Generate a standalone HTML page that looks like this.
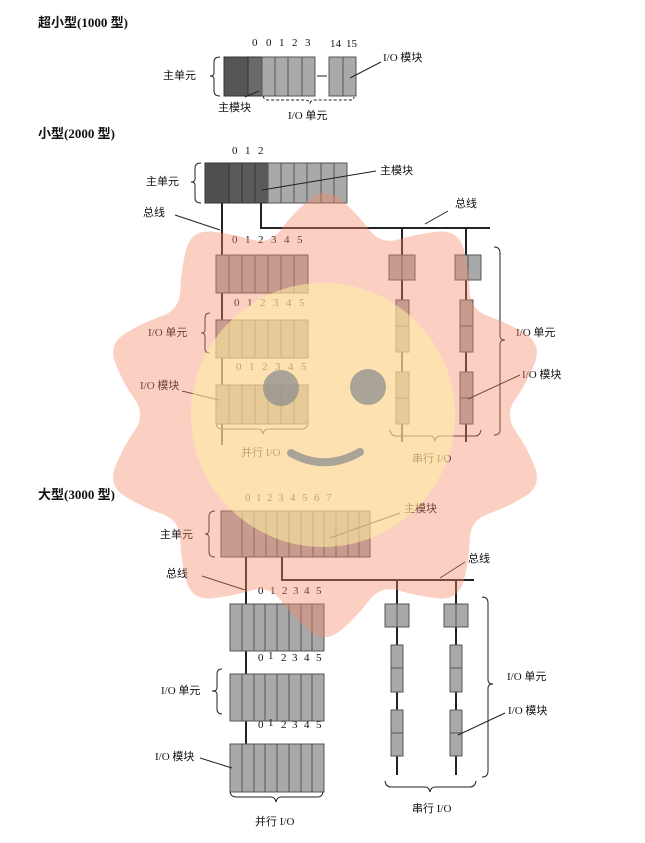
<!DOCTYPE html>
<html><head><meta charset="utf-8">
<style>
html,body{margin:0;padding:0;background:#fff;}
svg{display:block;}
text{font-family:"Liberation Serif","Noto Sans CJK SC",serif;font-size:11px;fill:#111;}
.t{font-size:13px;font-weight:bold;}
.c{fill:#a9a9a9;stroke:#555;stroke-width:1;}
.d{fill:#5a5a5a;stroke:#333;stroke-width:1;}
.l{stroke:#222;stroke-width:1;fill:none;}
.b{stroke:#222;stroke-width:2;fill:none;}
.br{stroke:#222;stroke-width:1;fill:none;}
</style></head><body>
<svg width="645" height="843" viewBox="0 0 645 843" xmlns="http://www.w3.org/2000/svg">
<!-- ===== 1000 ===== -->
<text class="t" x="38" y="27">超小型(1000 型)</text>
<text x="252" y="46">0</text><text x="266" y="46">0</text><text x="279" y="46">1</text><text x="292" y="46">2</text><text x="305" y="46">3</text>
<text x="330" y="47">14</text><text x="346" y="47">15</text>
<rect x="224" y="57" width="24" height="39" class="d" style="fill:#555"/>
<rect x="248" y="57" width="14" height="39" class="d" style="fill:#6a6a6a"/>
<rect x="262" y="57" width="13" height="39" class="c"/><rect x="275" y="57" width="13" height="39" class="c"/><rect x="288" y="57" width="14" height="39" class="c"/><rect x="302" y="57" width="13" height="39" class="c"/>
<line x1="317" y1="76" x2="327" y2="76" class="l"/>
<rect x="329" y="57" width="14" height="39" class="c"/><rect x="343" y="57" width="13" height="39" class="c"/>
<path class="br" d="M220 57 Q214 57 214 62 L214 73 Q214 76 210 76 Q214 76 214 79 L214 91 Q214 96 220 96"/>
<text x="163" y="79">主单元</text>
<line x1="245" y1="97" x2="259" y2="91" class="l"/>
<line x1="350" y1="78" x2="381" y2="62" class="l"/>
<text x="383" y="61">I/O 模块</text>
<text x="218" y="111">主模块</text>
<path class="br" stroke-dasharray="3,2" d="M263 96 Q264 100 268 100 L305 100 Q309 100 310 103 Q311 100 315 100 L350 100 Q354 100 354 97"/>
<text x="288" y="119">I/O 单元</text>

<!-- ===== 2000 ===== -->
<text class="t" x="38" y="138">小型(2000 型)</text>
<text x="232" y="154">0</text><text x="245" y="154">1</text><text x="258" y="154">2</text>
<rect x="205" y="163" width="24" height="40" style="fill:#505050;stroke:#333"/>
<rect x="229" y="163" width="13" height="40" class="d"/><rect x="242" y="163" width="13" height="40" class="d"/><rect x="255" y="163" width="13" height="40" class="d"/>
<rect x="268" y="163" width="13" height="40" class="c"/><rect x="281" y="163" width="13" height="40" class="c"/><rect x="294" y="163" width="13" height="40" class="c"/><rect x="307" y="163" width="14" height="40" class="c"/><rect x="321" y="163" width="13" height="40" class="c"/><rect x="334" y="163" width="13" height="40" class="c"/>
<line x1="262" y1="190" x2="376" y2="171" class="l"/>
<text x="380" y="174">主模块</text>
<path class="br" d="M201 163 Q195 163 195 168 L195 179 Q195 182 191 182 Q195 182 195 185 L195 198 Q195 203 201 203"/>
<text x="146" y="185">主单元</text>
<text x="143" y="216">总线</text>
<line x1="175" y1="215" x2="220" y2="230" class="l"/>
<line x1="222" y1="203" x2="222" y2="445" class="b"/>
<polyline points="261,203 261,228 490,228" class="b"/>
<line x1="425" y1="224" x2="448" y2="211" class="l"/>
<text x="455" y="207">总线</text>
<line x1="402" y1="228" x2="402" y2="442" class="b"/>
<line x1="466" y1="228" x2="466" y2="442" class="b"/>
<g>
<text x="232" y="243">0</text><text x="245" y="243">1</text><text x="258" y="243">2</text><text x="271" y="243">3</text><text x="284" y="243">4</text><text x="297" y="243">5</text>
<rect x="216" y="255" width="13" height="38" class="c"/><rect x="229" y="255" width="13" height="38" class="c"/><rect x="242" y="255" width="13" height="38" class="c"/><rect x="255" y="255" width="13" height="38" class="c"/><rect x="268" y="255" width="13" height="38" class="c"/><rect x="281" y="255" width="13" height="38" class="c"/><rect x="294" y="255" width="14" height="38" class="c"/>
<text x="234" y="306">0</text><text x="247" y="306">1</text><text x="260" y="306">2</text><text x="273" y="306">3</text><text x="286" y="306">4</text><text x="299" y="306">5</text>
<rect x="216" y="320" width="13" height="38" class="c"/><rect x="229" y="320" width="13" height="38" class="c"/><rect x="242" y="320" width="13" height="38" class="c"/><rect x="255" y="320" width="13" height="38" class="c"/><rect x="268" y="320" width="13" height="38" class="c"/><rect x="281" y="320" width="13" height="38" class="c"/><rect x="294" y="320" width="14" height="38" class="c"/>
<text x="236" y="370">0</text><text x="249" y="370">1</text><text x="262" y="370">2</text><text x="275" y="370">3</text><text x="288" y="370">4</text><text x="301" y="370">5</text>
<rect x="216" y="385" width="13" height="39" class="c"/><rect x="229" y="385" width="13" height="39" class="c"/><rect x="242" y="385" width="13" height="39" class="c"/><rect x="255" y="385" width="13" height="39" class="c"/><rect x="268" y="385" width="13" height="39" class="c"/><rect x="281" y="385" width="13" height="39" class="c"/><rect x="294" y="385" width="14" height="39" class="c"/>
</g>
<path class="br" d="M210 313 Q205 313 205 318 L205 330 Q205 333 201 333 Q205 333 205 336 L205 349 Q205 353 210 353"/>
<text x="148" y="336">I/O 单元</text>
<text x="140" y="389">I/O 模块</text>
<line x1="182" y1="391" x2="219" y2="400" class="l"/>
<path class="br" d="M216 424 Q217 429 222 429 L258 429 Q262 429 263 434 Q264 429 268 429 L302 429 Q307 429 308 424"/>
<text x="241" y="456">并行 I/O</text>
<rect x="389" y="255" width="13" height="25" class="c"/><rect x="402" y="255" width="13" height="25" class="c"/>
<rect x="455" y="255" width="13" height="25" class="c"/><rect x="468" y="255" width="13" height="25" class="c"/>
<rect x="396" y="300" width="13" height="26" class="c"/><rect x="396" y="326" width="13" height="26" class="c"/>
<rect x="396" y="372" width="13" height="26" class="c"/><rect x="396" y="398" width="13" height="26" class="c"/>
<rect x="460" y="300" width="13" height="26" class="c"/><rect x="460" y="326" width="13" height="26" class="c"/>
<rect x="460" y="372" width="13" height="26" class="c"/><rect x="460" y="398" width="13" height="26" class="c"/>
<path class="br" d="M494 247 Q500 247 500 253 L500 336 Q500 340 505 340 Q500 340 500 344 L500 430 Q500 435 494 435"/>
<text x="516" y="336">I/O 单元</text>
<text x="522" y="378">I/O 模块</text>
<line x1="468" y1="399" x2="520" y2="375" class="l"/>
<path class="br" d="M390 430 Q391 436 396 436 L430 436 Q434 436 435 441 Q436 436 440 436 L475 436 Q480 436 481 430"/>
<text x="412" y="462">串行 I/O</text>

<!-- ===== 3000 ===== -->
<text class="t" x="38" y="499">大型(3000 型)</text>
<text x="245" y="501">0</text><text x="256" y="501">1</text><text x="267" y="501">2</text><text x="278" y="501">3</text><text x="290" y="501">4</text><text x="302" y="501">5</text><text x="314" y="501">6</text><text x="326" y="501">7</text>
<rect x="221" y="511" width="21" height="46" class="c"/>
<rect x="242" y="511" width="12" height="46" class="c"/><rect x="254" y="511" width="12" height="46" class="c"/><rect x="266" y="511" width="11" height="46" class="c"/><rect x="277" y="511" width="12" height="46" class="c"/><rect x="289" y="511" width="12" height="46" class="c"/><rect x="301" y="511" width="12" height="46" class="c"/><rect x="313" y="511" width="11" height="46" class="c"/><rect x="324" y="511" width="12" height="46" class="c"/><rect x="336" y="511" width="12" height="46" class="c"/><rect x="348" y="511" width="11" height="46" class="c"/><rect x="359" y="511" width="11" height="46" class="c"/>
<line x1="330" y1="538" x2="400" y2="513" class="l"/>
<text x="404" y="512">主模块</text>
<path class="br" d="M215 511 Q209 511 209 517 L209 530 Q209 534 205 534 Q209 534 209 538 L209 552 Q209 557 215 557"/>
<text x="160" y="538">主单元</text>
<text x="166" y="577">总线</text>
<line x1="202" y1="576" x2="245" y2="590" class="l"/>
<line x1="246" y1="557" x2="246" y2="745" class="b"/>
<polyline points="282,557 282,580 474,580" class="b"/>
<line x1="440" y1="578" x2="465" y2="562" class="l"/>
<text x="468" y="562">总线</text>
<line x1="397" y1="580" x2="397" y2="775" class="b"/>
<line x1="456" y1="580" x2="456" y2="775" class="b"/>
<text x="258" y="594">0</text><text x="270" y="594">1</text><text x="282" y="594">2</text><text x="293" y="594">3</text><text x="304" y="594">4</text><text x="316" y="594">5</text>
<g>
<rect x="230" y="604" width="12" height="47" class="c"/><rect x="242" y="604" width="12" height="47" class="c"/><rect x="254" y="604" width="11" height="47" class="c"/><rect x="265" y="604" width="12" height="47" class="c"/><rect x="277" y="604" width="12" height="47" class="c"/><rect x="289" y="604" width="12" height="47" class="c"/><rect x="301" y="604" width="11" height="47" class="c"/><rect x="312" y="604" width="12" height="47" class="c"/>
<rect x="230" y="674" width="12" height="47" class="c"/><rect x="242" y="674" width="12" height="47" class="c"/><rect x="254" y="674" width="11" height="47" class="c"/><rect x="265" y="674" width="12" height="47" class="c"/><rect x="277" y="674" width="12" height="47" class="c"/><rect x="289" y="674" width="12" height="47" class="c"/><rect x="301" y="674" width="11" height="47" class="c"/><rect x="312" y="674" width="12" height="47" class="c"/>
<rect x="230" y="744" width="12" height="48" class="c"/><rect x="242" y="744" width="12" height="48" class="c"/><rect x="254" y="744" width="11" height="48" class="c"/><rect x="265" y="744" width="12" height="48" class="c"/><rect x="277" y="744" width="12" height="48" class="c"/><rect x="289" y="744" width="12" height="48" class="c"/><rect x="301" y="744" width="11" height="48" class="c"/><rect x="312" y="744" width="12" height="48" class="c"/>
</g>
<text x="258" y="661">0</text><text x="268" y="659">1</text><text x="281" y="661">2</text><text x="292" y="661">3</text><text x="304" y="661">4</text><text x="316" y="661">5</text>
<text x="258" y="728">0</text><text x="268" y="726">1</text><text x="281" y="728">2</text><text x="292" y="728">3</text><text x="304" y="728">4</text><text x="316" y="728">5</text>
<path class="br" d="M222 669 Q217 669 217 674 L217 688 Q217 691 212 691 Q217 691 217 694 L217 709 Q217 714 222 714"/>
<text x="161" y="694">I/O 单元</text>
<text x="155" y="760">I/O 模块</text>
<line x1="200" y1="758" x2="232" y2="768" class="l"/>
<path class="br" d="M230 792 Q231 797 236 797 L271 797 Q275 797 276 802 Q277 797 281 797 L318 797 Q322 797 323 792"/>
<text x="255" y="825">并行 I/O</text>
<rect x="385" y="604" width="12" height="23" class="c"/><rect x="397" y="604" width="12" height="23" class="c"/>
<rect x="444" y="604" width="12" height="23" class="c"/><rect x="456" y="604" width="12" height="23" class="c"/>
<rect x="391" y="645" width="12" height="23" class="c"/><rect x="391" y="668" width="12" height="24" class="c"/>
<rect x="391" y="710" width="12" height="23" class="c"/><rect x="391" y="733" width="12" height="23" class="c"/>
<rect x="450" y="645" width="12" height="23" class="c"/><rect x="450" y="668" width="12" height="24" class="c"/>
<rect x="450" y="710" width="12" height="23" class="c"/><rect x="450" y="733" width="12" height="23" class="c"/>
<path class="br" d="M482 597 Q488 597 488 603 L488 680 Q488 684 493 684 Q488 684 488 688 L488 771 Q488 777 482 777"/>
<text x="507" y="680">I/O 单元</text>
<text x="508" y="714">I/O 模块</text>
<line x1="458" y1="735" x2="505" y2="713" class="l"/>
<path class="br" d="M385 781 Q386 787 391 787 L425 787 Q429 787 430 792 Q431 787 435 787 L470 787 Q475 787 476 781"/>
<text x="412" y="812">串行 I/O</text>

<!-- ===== watermark ===== -->
<path opacity="0.4" fill="#f7876a" transform="translate(325 415) scale(1.03) translate(-325 -415)"
d="M309.5 206 Q325 193 340.5 206 Q356 219 367.5 234.5 Q379 250 397 244.5 Q415 239 435 237 Q455 235 460 255 Q465 275 465.5 294 Q466 313 483.5 319 Q501 325 518.5 335.5 Q536 346 528.5 365 Q521 384 510 399.5 Q499 415 510 430.5 Q521 446 528.5 465 Q536 484 518.5 494.5 Q501 505 483.5 511 Q466 517 465.5 536 Q465 555 460 575 Q455 595 435 593 Q415 591 397 585.5 Q379 580 367.5 595.5 Q356 611 340.5 624 Q325 637 309.5 624 Q294 611 282.5 595.5 Q271 580 253 585.5 Q235 591 215 593 Q195 595 190 575 Q185 555 184.5 536 Q184 517 166.5 511 Q149 505 131.5 494.5 Q114 484 121.5 465 Q129 446 140 430.5 Q151 415 140 399.5 Q129 384 121.5 365 Q114 346 131.5 335.5 Q149 325 166.5 319 Q184 313 184.5 294 Q185 275 190 255 Q195 235 215 237 Q235 239 253 244.5 Q271 250 282.5 234.5 Q294 219 309.5 206 Z"/>
<circle cx="323" cy="415" r="132" fill="#fff0a0" opacity="0.55"/>
<g opacity="0.75">
<circle cx="281" cy="388" r="18" fill="#8f8f8f"/>
<circle cx="368" cy="387" r="18" fill="#8f8f8f"/>
<path d="M291 453 Q325 472 360 452" stroke="#8f8f8f" stroke-width="8" fill="none" stroke-linecap="round"/>
</g>
</svg>
</body></html>
